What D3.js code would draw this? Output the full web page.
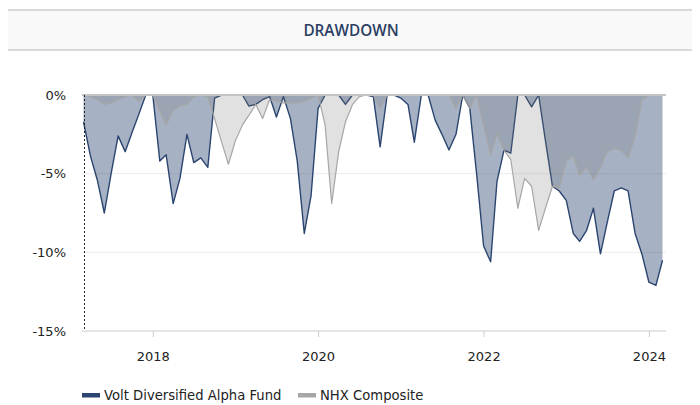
<!DOCTYPE html>
<html>
<head>
<meta charset="utf-8">
<script src="https://cdn.jsdelivr.net/npm/d3@7"></script>
<style>
  body { margin: 0; background: #fff; }
  svg { display: block; }
</style>
</head>
<body>
<svg id="chart" width="700" height="405"></svg>
<script>
// Drawdown chart — monthly values, Mar 2017 .. Mar 2024 (percent)

const firstMonth = new Date(Date.UTC(2017, 2, 1));

const fundDrawdown = [
  -1.7, -3.9, -5.4, -7.5, -5.0, -2.6, -3.6, -2.4, -1.2, 0,
  0, -4.2, -3.8, -6.9, -5.3, -2.5, -4.3, -4.0, -4.6, -0.2,
  0, 0, 0, 0, -0.7, -0.6, -0.3, -0.1, -1.4, -0.1,
  -1.5, -4.2, -8.8, -6.4, -0.85, 0, 0, 0, -0.6, 0,
  0, 0, -0.1, -3.3, 0, 0, -0.2, -0.6, -3.0, 0,
  0, -1.6, -2.5, -3.5, -2.5, 0, -0.85, -5.0, -9.6, -10.6,
  -5.5, -3.5, -3.7, 0, 0, -0.75, 0, -2.9, -5.8, -6.1,
  -6.7, -8.8, -9.3, -8.6, -7.2, -10.1, -8.1, -6.1, -5.9, -6.1,
  -8.8, -10.1, -11.9, -12.1, -10.5
];

const benchDrawdown = [
  0, -0.1, -0.3, -0.6, -0.5, -0.3, -0.1, 0, -0.4, 0,
  0, -1.0, -1.9, -1.0, -0.7, -0.6, -0.1, 0, -0.1, -1.5,
  -3.0, -4.4, -2.9, -1.9, -1.3, -0.6, -1.5, -0.3, -0.4, -0.5,
  -0.5, -0.5, -0.4, -0.2, 0, -1.9, -6.9, -3.6, -1.7, -0.6,
  -0.1, 0, 0, -0.85, 0, 0, 0, 0, 0, 0,
  0, 0, 0, 0, -0.85, 0, -0.85, 0, -1.9, -3.8,
  -2.5, -3.5, -4.1, -7.2, -5.3, -5.8, -8.6, -7.2, -5.8, -5.9,
  -4.2, -3.85, -5.1, -4.6, -5.4, -4.6, -3.6, -3.4, -3.5, -4.0,
  -2.6, -0.3, 0, 0, 0
];

const yTickValues = [0, -5, -10, -15];
const xTickYears = [2018, 2020, 2022, 2024];
const seriesNames = ["Volt Diversified Alpha Fund", "NHX Composite"];

const fundColor = "#2b4570";
const benchColor = "#a6a6a6";
const labelFont = "'DejaVu Sans', Verdana, sans-serif";

const svg = d3.select("#chart");

// Title band
svg.append("rect")
  .attr("x", 8).attr("y", 10).attr("width", 684).attr("height", 40)
  .attr("fill", "#f9f9f9");
svg.append("line").attr("x1", 8).attr("x2", 692).attr("y1", 10).attr("y2", 10)
  .attr("stroke", "#d9d9d9").attr("stroke-width", 2);
svg.append("line").attr("x1", 8).attr("x2", 692).attr("y1", 50).attr("y2", 50)
  .attr("stroke", "#d9d9d9").attr("stroke-width", 2);
svg.append("text")
  .attr("x", 351).attr("y", 35.5)
  .attr("text-anchor", "middle")
  .attr("font-family", "'Open Sans', sans-serif")
  .attr("font-size", 15.3).attr("font-weight", 600)
  .attr("fill", "#2c3e63")
  .text("DRAWDOWN");

// Scales
const dates = fundDrawdown.map((_, i) => d3.utcMonth.offset(firstMonth, i));
const x = d3.scaleUtc().domain(d3.extent(dates)).range([83.5, 662.5]);
const y = d3.scaleLinear().domain([-15, 0]).range([331, 95]);

const plotLeft = 82, plotRight = 666;

// Grid
svg.append("g")
  .selectAll("line")
  .data(yTickValues.filter(v => v !== 0 && v !== -15))
  .join("line")
  .attr("x1", plotLeft).attr("x2", plotRight)
  .attr("y1", d => y(d)).attr("y2", d => y(d))
  .attr("stroke", "#ececec").attr("stroke-width", 1);

// Y labels
svg.append("g")
  .selectAll("text")
  .data(yTickValues)
  .join("text")
  .attr("x", 66).attr("y", d => y(d) + 4.8)
  .attr("text-anchor", "end")
  .attr("font-family", labelFont)
  .attr("font-size", 13)
  .attr("fill", "#222")
  .text(d => d + "%");

// X axis
const xAxis = d3.axisBottom(x)
  .tickValues(xTickYears.map(yr => new Date(Date.UTC(yr, 0, 1))))
  .tickFormat(d3.utcFormat("%Y"))
  .tickSize(6)
  .tickPadding(15);

const gx = svg.append("g").attr("transform", `translate(0,${y(-15)})`).call(xAxis);
gx.select(".domain").remove();
gx.selectAll(".tick line").attr("stroke", "#cccccc");
gx.selectAll(".tick text")
  .attr("font-family", labelFont)
  .attr("font-size", 13)
  .attr("fill", "#222");
svg.append("line")
  .attr("x1", plotLeft).attr("x2", plotRight)
  .attr("y1", y(-15)).attr("y2", y(-15))
  .attr("stroke", "#cccccc");

// Areas and lines
const area = d3.area()
  .x((d, i) => x(dates[i]))
  .y0(y(0))
  .y1(d => y(d));
const line = d3.line()
  .x((d, i) => x(dates[i]))
  .y(d => y(d));

svg.append("path").datum(fundDrawdown)
  .attr("d", area)
  .attr("fill", "rgba(44,70,112,0.42)");
svg.append("path").datum(fundDrawdown)
  .attr("d", line)
  .attr("fill", "none")
  .attr("stroke", fundColor).attr("stroke-width", 1.4)
  .attr("stroke-linejoin", "round");

svg.append("path").datum(benchDrawdown)
  .attr("d", area)
  .attr("fill", "rgba(120,120,120,0.22)");
svg.append("path").datum(benchDrawdown)
  .attr("d", line)
  .attr("fill", "none")
  .attr("stroke", benchColor).attr("stroke-width", 1.2)
  .attr("stroke-linejoin", "round");

// zero line
svg.append("line")
  .attr("x1", plotLeft).attr("x2", plotRight)
  .attr("y1", y(0)).attr("y2", y(0))
  .attr("stroke", "#c4c4c4").attr("stroke-width", 2);

// start marker
svg.append("line")
  .attr("x1", 84.5).attr("x2", 84.5)
  .attr("y1", y(0)).attr("y2", y(-15))
  .attr("stroke", "#222").attr("stroke-width", 1)
  .attr("stroke-dasharray", "2,2");

// Legend
const legend = svg.append("g").attr("transform", "translate(82,400)");
const legendItems = [
  { name: seriesNames[0], color: fundColor, x: 0 },
  { name: seriesNames[1], color: benchColor, x: 216 }
];
const li = legend.selectAll("g").data(legendItems).join("g")
  .attr("transform", d => `translate(${d.x},0)`);
li.append("rect")
  .attr("x", 0).attr("y", -7).attr("width", 18).attr("height", 4.5)
  .attr("fill", d => d.color);
li.append("text")
  .attr("x", 22).attr("y", 0)
  .attr("font-family", labelFont)
  .attr("font-size", 13.2)
  .attr("fill", "#222")
  .text(d => d.name);
</script>
</body>
</html>
